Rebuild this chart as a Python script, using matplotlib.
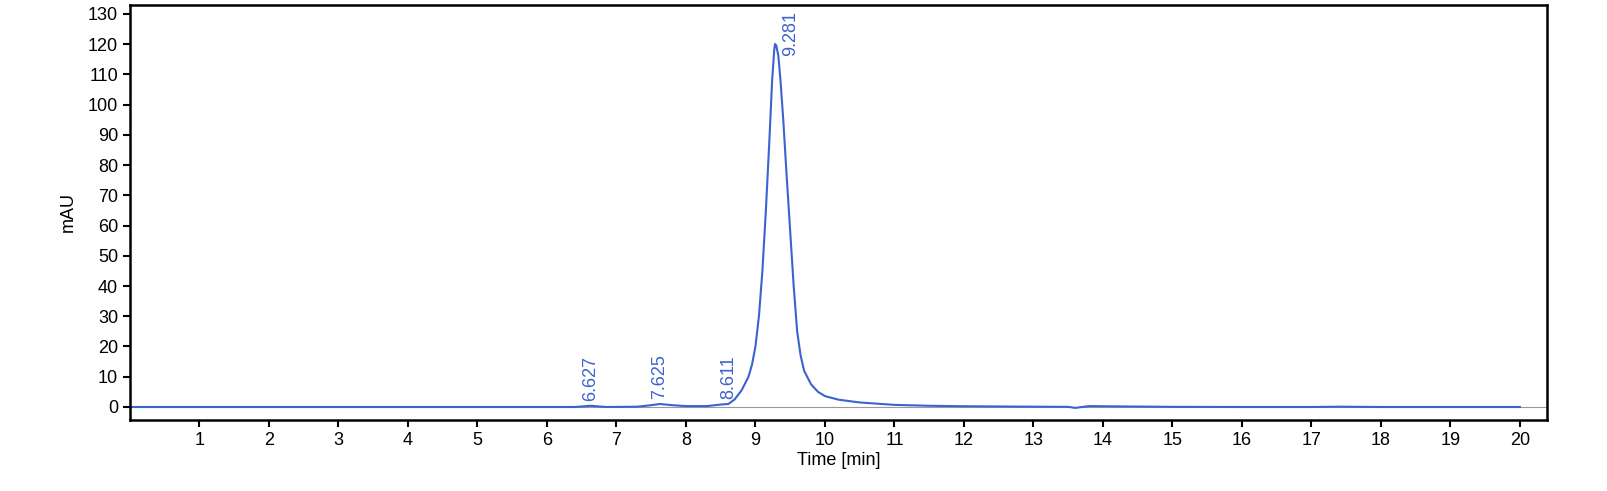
import matplotlib
matplotlib.use("Agg")
import matplotlib.pyplot as plt

time = [0, 6.4, 6.627, 6.85, 7.3, 7.5, 7.625, 7.8, 8.0, 8.3, 8.5, 8.611, 8.7, 8.8, 8.9, 8.95, 9.0, 9.05, 9.1, 9.15,
        9.2, 9.24, 9.27, 9.281, 9.3, 9.33, 9.36, 9.4, 9.45, 9.5, 9.55, 9.6, 9.65, 9.7, 9.8, 9.9, 10.0, 10.2, 10.5,
        11.0, 11.5, 12.0, 13.0, 13.5, 13.6, 13.8, 14.2, 15.0, 16.0, 17.0, 17.4, 18.0, 20.0]
mau = [0, 0, 0.4, 0, 0.1, 0.6, 1.0, 0.6, 0.3, 0.3, 0.8, 1.0, 2.5, 5.5, 10, 14, 20, 30, 45, 65,
       88, 108, 118, 120, 119.5, 116, 108, 95, 76, 58, 40, 25, 17, 12, 7.5, 5, 3.6, 2.4, 1.5,
       0.7, 0.4, 0.25, 0.1, 0.05, -0.3, 0.3, 0.2, 0.05, 0, 0, 0.1, 0, 0]
peaks = [6.627, 7.625, 8.611, 9.281]
peak_h = [0.4, 1.0, 1.0, 120]

blue = "#3a63d0"
fig = plt.figure(figsize=(16.08, 4.91), dpi=100)
fig.patch.set_facecolor("white")
ax = fig.add_axes([130/1608, 1-420/491, 1417/1608, 415/491])
ax.plot(time, mau, color=blue, lw=1.5)
ax.axhline(0, color="#999999", lw=0.8, zorder=0)
for t, h in zip(peaks, peak_h):
    if h > 100:
        ax.text(t + 0.22, 131, f"{t:.3f}", rotation=90, color=blue, fontsize=13,
                ha="center", va="top", family="Liberation Sans")
    else:
        ax.text(t, h + 1.5, f"{t:.3f}", rotation=90, color=blue, fontsize=13,
                ha="center", va="bottom", family="Liberation Sans")
ax.set_xlim(0, 20.39)
ax.set_ylim(-4.3, 132.9)
ax.set_xticks(range(1, 21))
ax.set_yticks(range(0, 131, 10))
for s in ax.spines.values():
    s.set_linewidth(1.8)
ax.tick_params(labelsize=13, width=1.5, length=5)
for lab in ax.get_xticklabels() + ax.get_yticklabels():
    lab.set_family("Liberation Sans")
ax.set_xlabel("Time [min]", fontsize=13, family="Liberation Sans", labelpad=2)
ax.set_ylabel("mAU", fontsize=13, family="Liberation Sans", labelpad=8)
fig.savefig("out.png", dpi=100)
